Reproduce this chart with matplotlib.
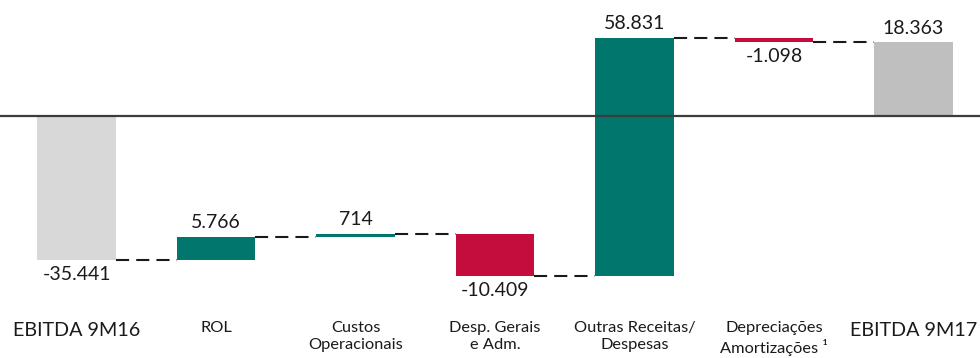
import numpy as np
import matplotlib
matplotlib.use("Agg")
import matplotlib.pyplot as plt

plt.rcParams["font.family"] = ["Lato", "DejaVu Sans"]

categories = [
    "EBITDA 9M16",
    "ROL",
    "Custos\nOperacionais",
    "Desp. Gerais\ne Adm.",
    "Outras Receitas/\nDespesas",
    "Depreciações\nAmortizações ¹",
    "EBITDA 9M17",
]
values = [-35441, 5766, 714, -10409, 58831, -1098, 18363]
value_labels = ["-35.441", "5.766", "714", "-10.409", "58.831", "-1.098", "18.363"]
is_total = [True, False, False, False, False, False, True]

TEAL = "#00766c"
RED = "#c40d3c"
GRAY_START = "#d8d8d9"
GRAY_END = "#bfbfbf"

fig = plt.figure(figsize=(9.8, 3.58), dpi=100)
ax = fig.add_axes([0, 0, 1, 1])

x = np.arange(len(values))
width = 0.56

# running totals for the floating bars
bottoms = []
tops = []
level = 0
for i, v in enumerate(values):
    if is_total[i]:
        lo, hi = min(0, v), max(0, v)
        level = v
    else:
        lo, hi = min(level, level + v), max(level, level + v)
        level += v
    bottoms.append(lo)
    tops.append(hi)
bottoms = np.array(bottoms)
tops = np.array(tops)

colors = []
for i, v in enumerate(values):
    if is_total[i]:
        colors.append(GRAY_START if i == 0 else GRAY_END)
    else:
        colors.append(TEAL if v > 0 else RED)

ax.bar(x, tops - bottoms, bottom=bottoms, width=width, color=colors, zorder=2)

# dashed connectors between consecutive bars
ends = np.cumsum(values[:-1])
for i, lvl in enumerate(ends):
    ax.plot([x[i] + width / 2, x[i + 1] - width / 2], [lvl, lvl],
            color="#1a1a1a", lw=1.5, dashes=(6.3, 3.4), zorder=1)

ax.axhline(0, color="#3c3c3c", lw=1.6, zorder=3)

for i, v in enumerate(values):
    if v >= 0:
        ax.annotate(value_labels[i], (x[i], tops[i]), xytext=(0, 4),
                    textcoords="offset points", ha="center", va="bottom",
                    fontsize=14, color="#1a1a1a")
    else:
        ax.annotate(value_labels[i], (x[i], bottoms[i]), xytext=(0, -4),
                    textcoords="offset points", ha="center", va="top",
                    fontsize=14, color="#1a1a1a")

trans = ax.get_xaxis_transform()
for i, name in enumerate(categories):
    if is_total[i]:
        ax.text(x[i], 0.078, name, transform=trans, ha="center", va="center",
                fontsize=14.2, color="#1a1a1a")
    else:
        ax.text(x[i], 0.104, name, transform=trans, ha="center", va="top",
                fontsize=11.8, color="#1a1a1a", linespacing=1.3)

ax.set_xlim(-0.5484, 6.4767)
ax.set_ylim(-59630, 28765)
ax.axis("off")

fig.savefig("out.png", dpi=100, facecolor="white")
